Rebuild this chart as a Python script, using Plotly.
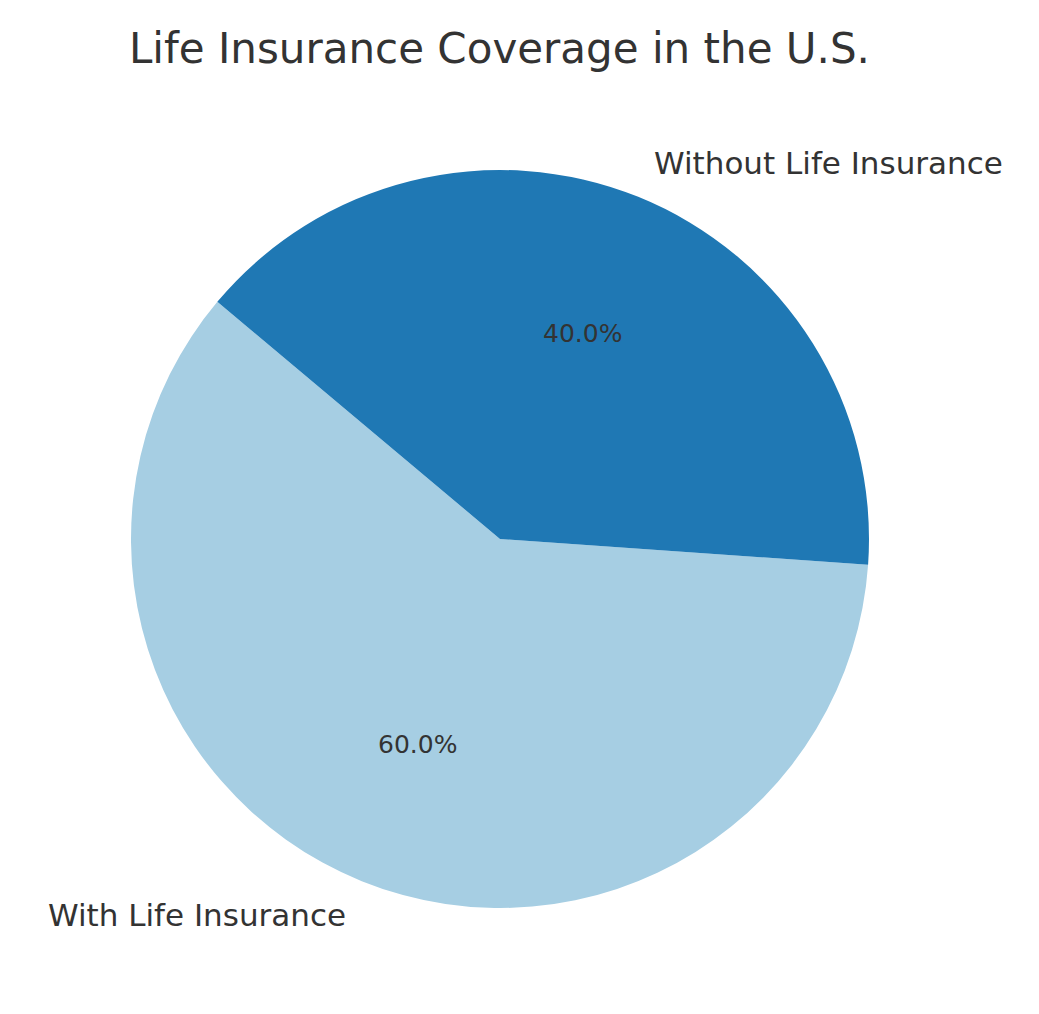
import math
import plotly.graph_objects as go

labels = ["With Life Insurance", "Without Life Insurance"]
values = [60, 40]
colors = ["#a6cee3", "#1f78b4"]

W, H = 1039, 1014
cx, cy, r = 492, 531, 369
start = 140.0

dom = dict(x=[(cx - r) / W, (cx + r) / W], y=[1 - (cy + r) / H, 1 - (cy - r) / H])
fig = go.Figure()
fig.add_trace(go.Pie(labels=labels, values=values, sort=False, direction="counterclockwise",
                     rotation=94, marker=dict(colors=colors), domain=dom,
                     textinfo="none", showlegend=False, hoverinfo="skip"))

total = sum(values)
a0 = start
for lab, v in zip(labels, values):
    span = 360 * v / total
    mid = math.radians(a0 + span / 2)
    a0 += span
    c, s = math.cos(mid), math.sin(mid)
    fig.add_annotation(x=(cx + 1.1 * r * c) / W, y=1 - (cy - 1.1 * r * s) / H,
                       xref="paper", yref="paper", text=lab, showarrow=False,
                       xanchor="left" if c > 0 else "right", yanchor="middle",
                       font=dict(size=31, color="#333333", family="DejaVu Sans"))
    fig.add_annotation(x=(cx + 0.6 * r * c) / W, y=1 - (cy - 0.6 * r * s) / H,
                       xref="paper", yref="paper", text=f"{100 * v / total:.1f}%", showarrow=False,
                       xanchor="center", yanchor="middle",
                       font=dict(size=25, color="#333333", family="DejaVu Sans"))

fig.update_layout(width=W, height=H, margin=dict(l=0, r=0, t=0, b=0),
                  paper_bgcolor="white",
                  title=dict(text="Life Insurance Coverage in the U.S.", x=0.473, xanchor="center",
                             y=0.96, yanchor="middle",
                             font=dict(size=42, color="#333333", family="DejaVu Sans")))
fig.write_html("out.html")
